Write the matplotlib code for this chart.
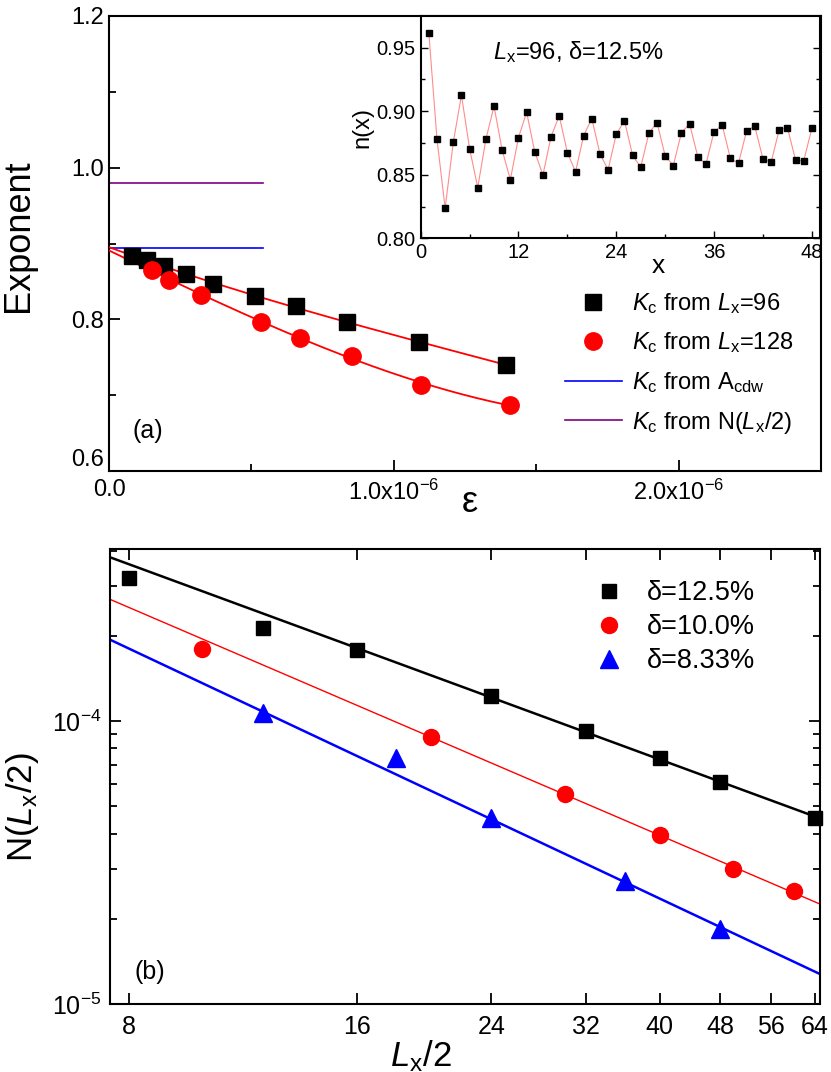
import numpy as np
import matplotlib
matplotlib.use('Agg')
import matplotlib.pyplot as plt
from matplotlib.ticker import MultipleLocator, FixedLocator, FixedFormatter, NullFormatter, NullLocator

plt.rcParams['font.family'] = ['Liberation Sans', 'DejaVu Sans']
plt.rcParams['mathtext.fontset'] = 'custom'
plt.rcParams['mathtext.rm'] = 'Liberation Sans'
plt.rcParams['mathtext.it'] = 'Liberation Sans:italic'
plt.rcParams['mathtext.bf'] = 'Liberation Sans:bold'
plt.rcParams['mathtext.sf'] = 'Liberation Sans'
plt.rcParams['axes.linewidth'] = 1.5

# ---------------- data: panel (a) ----------------
eps_96 = np.array([0.080, 0.132, 0.194, 0.270, 0.366, 0.513, 0.656, 0.836, 1.088, 1.395]) * 1e-6
kc_96 = np.array([0.884, 0.878, 0.870, 0.860, 0.847, 0.831, 0.817, 0.796, 0.770, 0.740])
eps_128 = np.array([0.150, 0.212, 0.322, 0.535, 0.671, 0.854, 1.097, 1.407]) * 1e-6
kc_128 = np.array([0.865, 0.852, 0.832, 0.797, 0.775, 0.751, 0.714, 0.687])
kc_acdw = 0.894
kc_nlx = 0.980
ref_line_eps = [0.0, 0.54e-6]
yticks_a = [0.6, 0.8, 1.0, 1.2]

# ---------------- data: inset ----------------
x_site = np.arange(1, 49)
n_x = [0.9613, 0.8779, 0.8236, 0.8755, 0.9125, 0.8705, 0.8399, 0.8779,
       0.9038, 0.8692, 0.8461, 0.8792, 0.8991, 0.8679, 0.8498, 0.8800,
       0.8962, 0.8674, 0.8522, 0.8808, 0.8941, 0.8663, 0.8540, 0.8818,
       0.8925, 0.8653, 0.8558, 0.8826, 0.8910, 0.8648, 0.8572, 0.8831,
       0.8899, 0.8642, 0.8582, 0.8839, 0.8889, 0.8629, 0.8590, 0.8847,
       0.8881, 0.8624, 0.8598, 0.8855, 0.8870, 0.8616, 0.8608, 0.8865]

# ---------------- data: panel (b) ----------------
L_125 = np.array([8, 12, 16, 24, 32, 40, 48, 64])
N_125 = np.array([3.20e-4, 2.13e-4, 1.78e-4, 1.22e-4, 0.92e-4, 0.74e-4, 0.61e-4, 0.453e-4])
L_100 = np.array([10, 20, 30, 40, 50, 60])
N_100 = np.array([1.80e-4, 0.878e-4, 0.55e-4, 0.394e-4, 0.301e-4, 0.25e-4])
L_833 = np.array([12, 18, 24, 36, 48])
N_833 = np.array([1.07e-4, 0.742e-4, 0.455e-4, 0.273e-4, 0.184e-4])
fit_125 = [2, 3, 4, 5, 6, 7]
fit_100 = [1, 2, 3, 4, 5]
fit_833 = [0, 2, 3, 4]
xticks_b = [8, 16, 24, 32, 40, 48, 56, 64]

W, H = 831, 1072
fig = plt.figure(figsize=(W / 100, H / 100), dpi=100)

def frac(l, t, r, b):
    return [l / W, 1 - b / H, (r - l) / W, (b - t) / H]

# ================= panel (a) =================
ax = fig.add_axes(frac(109, 16, 821, 471))
ax.set_xlim(0, 2.5e-6)
ax.set_ylim(0.6, 1.2)

ax.plot(ref_line_eps, [kc_acdw, kc_acdw], color='#0000ff', lw=1.2, label=r'$\mathit{K}_\mathrm{c}$ from A$_\mathrm{cdw}$', zorder=2)
ax.plot(ref_line_eps, [kc_nlx, kc_nlx], color='#800080', lw=1.2, label=r'$\mathit{K}_\mathrm{c}$ from N($\mathit{L}_\mathrm{x}$/2)', zorder=2)

for ex, ky in ((eps_96, kc_96), (eps_128, kc_128)):
    p = np.polyfit(ex * 1e6, ky, 3)
    xx = np.linspace(0, ex[-1] * 1e6, 200)
    ax.plot(xx * 1e-6, np.polyval(p, xx), color='red', lw=1.3, zorder=3)

ax.plot(eps_96, kc_96, 's', color='black', ms=11, zorder=4, label=r'$\mathit{K}_\mathrm{c}$ from $\mathit{L}_\mathrm{x}$=96')
ax.plot(eps_128, kc_128, 'o', color='red', ms=12.5, mec='red', zorder=4, label=r'$\mathit{K}_\mathrm{c}$ from $\mathit{L}_\mathrm{x}$=128')

ax.xaxis.set_major_locator(FixedLocator([0, 1e-6, 2e-6]))
ax.xaxis.set_major_formatter(FixedFormatter(['0.0', r'1.0x10$^{-6}$', r'2.0x10$^{-6}$']))
ax.xaxis.set_minor_locator(FixedLocator([0.5e-6, 1.5e-6]))
ax.yaxis.set_major_locator(FixedLocator(yticks_a))
ax.yaxis.set_major_formatter(FixedFormatter(['%.1f' % v for v in yticks_a]))
ax.yaxis.set_minor_locator(FixedLocator([0.7, 0.9, 1.1]))
ax.tick_params(which='both', direction='in', labelsize=17, width=1.3, top=False, right=False)
ax.tick_params(which='major', length=8)
ax.tick_params(which='minor', length=5)
ax.tick_params(axis='x', pad=6)
ax.set_ylabel('Exponent', fontsize=26)
ax.yaxis.set_label_coords(-0.103, (471 - 236) / 455)
ax.text((470 - 109) / 712, -(503 - 471) / 455, 'ε', transform=ax.transAxes, fontsize=26,
        ha='center', va='center')
ax.text((132 - 109) / 712, (471 - 443) / 455, '(a)', transform=ax.transAxes, fontsize=18,
        va='bottom', ha='left')

h, l = ax.get_legend_handles_labels()
order = [2, 3, 0, 1]
leg = ax.legend([h[i] for i in order], [l[i] for i in order], loc='upper left',
                bbox_to_anchor=((565 - 109) / 712, (471 - 291) / 455), frameon=False,
                fontsize=17, borderpad=0, borderaxespad=0, handlelength=2.4,
                handletextpad=0.45, labelspacing=0.62, numpoints=1)

# ================= inset =================
ai = fig.add_axes(frac(420.7, 15.7, 820, 238.3))
ai.plot(x_site, n_x, '-', color='#ff8c8c', lw=0.8, zorder=2)
ai.plot(x_site, n_x, 's', color='black', ms=4.8, zorder=3)
ai.set_xlim(0, 49)
ai.set_ylim(0.80, 0.975)
ai.xaxis.set_major_locator(MultipleLocator(12))
ai.xaxis.set_minor_locator(MultipleLocator(6))
ai.yaxis.set_major_locator(FixedLocator([0.80, 0.85, 0.90, 0.95]))
ai.yaxis.set_minor_locator(FixedLocator([0.825, 0.875, 0.925]))
ai.yaxis.set_major_formatter(matplotlib.ticker.FormatStrFormatter('%.2f'))
ai.tick_params(which='both', direction='in', labelsize=14.5, width=1.0, right=True, top=False)
ai.tick_params(which='major', length=5)
ai.tick_params(which='minor', length=3)
ai.set_ylabel('n(x)', fontsize=17, labelpad=2)
ai.set_xlabel('x', fontsize=19)
ai.xaxis.set_label_coords((658 - 420.7) / 399.3, -0.07)
ai.text((493 - 420.7) / 399.3, (238.3 - 52) / 222.6, r'$\mathit{L}_\mathrm{x}$=96, δ=12.5%',
        transform=ai.transAxes, fontsize=17, va='center', ha='left')

# ================= panel (b) =================
bx = fig.add_axes(frac(109.7, 549, 820, 1004))
bx.set_xscale('log')
bx.set_yscale('log')
xlo, xhi = 7.55, 65.0
bx.set_xlim(xlo, xhi)
bx.set_ylim(1e-5, 4.05e-4)

xx = np.array([xlo, xhi])
for Ls, Ns, idx, col, lw in ((L_125, N_125, fit_125, 'black', 1.8),
                             (L_100, N_100, fit_100, 'red', 1.0),
                             (L_833, N_833, fit_833, 'blue', 1.8)):
    p = np.polyfit(np.log10(Ls[idx]), np.log10(Ns[idx]), 1)
    bx.plot(xx, 10 ** np.polyval(p, np.log10(xx)), color=col, lw=lw, zorder=2)

bx.plot(L_125, N_125, 's', color='black', ms=10.5, zorder=4, label='δ=12.5%', clip_on=False)
bx.plot(L_100, N_100, 'o', color='red', ms=11.5, zorder=4, label='δ=10.0%')
bx.plot(L_833, N_833, '^', color='blue', ms=13, zorder=4, label='δ=8.33%')

bx.xaxis.set_major_locator(FixedLocator(xticks_b))
bx.xaxis.set_major_formatter(FixedFormatter([str(v) for v in xticks_b]))
bx.xaxis.set_minor_locator(NullLocator())
bx.yaxis.set_major_locator(FixedLocator([1e-5, 1e-4]))
bx.yaxis.set_major_formatter(FixedFormatter([r'10$^{-5}$', r'10$^{-4}$']))
bx.yaxis.set_minor_locator(FixedLocator([k * 1e-5 for k in range(2, 10)] + [2e-4, 3e-4, 4e-4]))
bx.yaxis.set_minor_formatter(NullFormatter())
bx.tick_params(which='both', direction='in', labelsize=18, width=1.3, top=True, right=True)
bx.tick_params(which='major', length=8)
bx.tick_params(which='minor', length=5)
bx.tick_params(axis='x', pad=8)
bx.tick_params(axis='y', pad=6)
bx.set_ylabel(r'N($\mathit{L}_\mathrm{x}$/2)', fontsize=25)
bx.yaxis.set_label_coords(-0.097, (1004 - 807) / 455)
bx.set_xlabel(r'$\mathit{L}_\mathrm{x}$/2', fontsize=25)
bx.xaxis.set_label_coords((421 - 109.7) / 710.3, -0.075)
bx.text((135 - 109.7) / 710.3, (1004 - 984) / 455, '(b)', transform=bx.transAxes, fontsize=18,
        va='bottom', ha='left')
bx.legend(loc='upper left', bbox_to_anchor=((585 - 109.7) / 710.3, (1004 - 580) / 455),
          frameon=False, fontsize=19.5, borderpad=0, borderaxespad=0, handlelength=1.8,
          handletextpad=0.5, labelspacing=0.3, numpoints=1)

# raise the lowest y label of panel (a) so it clears the "0.0" label (as in the original)
fig.canvas.draw()
for t in ax.yaxis.get_major_ticks():
    if abs(t.get_loc() - yticks_a[0]) < 1e-9:
        t.label1.set_verticalalignment('bottom')

fig.savefig('out.png', dpi=100)
